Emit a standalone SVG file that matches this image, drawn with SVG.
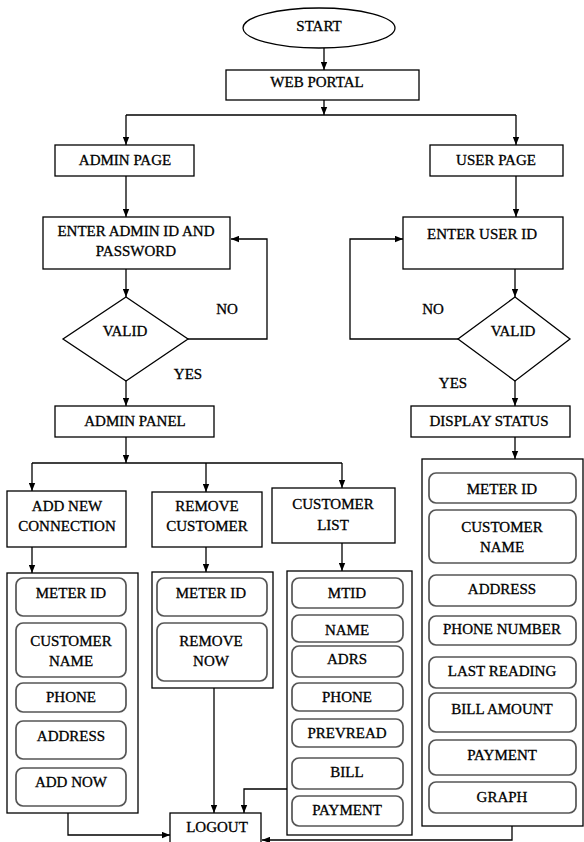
<svg xmlns="http://www.w3.org/2000/svg" width="584" height="842" viewBox="0 0 584 842">
<defs>
<marker id="arr" viewBox="0 0 10 8" refX="10" refY="4" markerWidth="8" markerHeight="7" markerUnits="userSpaceOnUse" orient="auto">
<path d="M0,0 L10,4 L0,8 z" fill="#000"/>
</marker>
<style>
.b{fill:#fff;stroke:#000;stroke-width:1.3}
.c{fill:none;stroke:#000;stroke-width:1.3}
.r{fill:#fff;stroke:#555;stroke-width:1.7}
.t{font-family:"Liberation Serif","Times New Roman",serif;font-size:15px;fill:#000;stroke:#000;stroke-width:0.3;text-anchor:middle}
.k{fill:none;stroke:#000;stroke-width:1.3;marker-end:url(#arr)}
</style>
</defs>
<rect width="584" height="842" fill="#fff"/>

<g id="connectors">
<path class="k" d="M324,48 V70"/>
<path class="k" d="M324,100 V115"/>
<path class="c" d="M126,115 H516"/>
<path class="k" d="M126,115 V145"/>
<path class="k" d="M516,115 V145"/>
<path class="k" d="M126,176 V217"/>
<path class="k" d="M516,176 V217"/>
<path class="k" d="M126,269 V297"/>
<path class="k" d="M515,269 V297"/>
<path class="k" d="M188,339 H267 V239 H231"/>
<path class="k" d="M458,339 H350 V239 H403"/>
<path class="k" d="M126,381 V406"/>
<path class="k" d="M515,381 V406"/>
<path class="k" d="M126,437 V463"/>
<path class="c" d="M32,463 H342"/>
<path class="k" d="M32,463 V491"/>
<path class="k" d="M206,463 V492"/>
<path class="k" d="M342,463 V488"/>
<path class="k" d="M515,437 V459"/>
<path class="k" d="M32,547 V573"/>
<path class="k" d="M206,547 V572"/>
<path class="k" d="M342,543 V571"/>
<path class="k" d="M68,813 V835 H170"/>
<path class="k" d="M214,688 V813"/>
<path class="k" d="M287,789 H244 V813"/>
<path class="k" d="M512,826 V840 H262"/>
</g>

<g id="start"><ellipse class="b" cx="319" cy="28" rx="76" ry="20"/><text class="t" x="319" y="31">START</text></g>
<g id="web-portal"><rect class="b" x="226" y="70" width="193" height="30"/><text class="t" x="317" y="87">WEB PORTAL</text></g>
<g id="admin-page"><rect class="b" x="55" y="145" width="139" height="31"/><text class="t" x="125" y="165">ADMIN PAGE</text></g>
<g id="user-page"><rect class="b" x="430" y="145" width="133" height="31"/><text class="t" x="496" y="165">USER PAGE</text></g>
<g id="enter-admin"><rect class="b" x="43" y="217" width="187" height="52"/><text class="t" x="136" y="236">ENTER ADMIN ID AND</text><text class="t" x="136" y="256">PASSWORD</text></g>
<g id="enter-user"><rect class="b" x="403" y="217" width="160" height="52"/><text class="t" x="482" y="239">ENTER USER ID</text></g>
<g id="valid-admin"><polygon class="b" points="126,297 188,339 126,381 63,339"/><text class="t" x="125" y="336">VALID</text></g>
<g id="valid-user"><polygon class="b" points="515,297 570,339 515,381 458,339"/><text class="t" x="513" y="336">VALID</text></g>
<g id="labels">
<text class="t" x="227" y="314">NO</text>
<text class="t" x="433" y="314">NO</text>
<text class="t" x="188" y="379">YES</text>
<text class="t" x="453" y="388">YES</text>
</g>
<g id="admin-panel"><rect class="b" x="55" y="406" width="159" height="31"/><text class="t" x="135" y="426">ADMIN PANEL</text></g>
<g id="display-status"><rect class="b" x="411" y="406" width="159" height="31"/><text class="t" x="489" y="426">DISPLAY STATUS</text></g>

<g id="add-new"><rect class="b" x="7" y="491" width="119" height="56"/><text class="t" x="67" y="511">ADD NEW</text><text class="t" x="67" y="531">CONNECTION</text></g>
<g id="remove-customer"><rect class="b" x="152" y="492" width="110" height="55"/><text class="t" x="207" y="511">REMOVE</text><text class="t" x="207" y="531">CUSTOMER</text></g>
<g id="customer-list"><rect class="b" x="272" y="488" width="123" height="55"/><text class="t" x="333" y="509">CUSTOMER</text><text class="t" x="333" y="530">LIST</text></g>

<g id="add-form">
<rect class="b" x="7" y="573" width="131" height="240"/>
<rect class="r" x="16" y="578" width="110" height="38" rx="7"/><text class="t" x="71" y="598">METER ID</text>
<rect class="r" x="16" y="623" width="110" height="54" rx="7"/><text class="t" x="71" y="646">CUSTOMER</text><text class="t" x="71" y="666">NAME</text>
<rect class="r" x="16" y="683" width="110" height="29" rx="7"/><text class="t" x="71" y="702">PHONE</text>
<rect class="r" x="16" y="721" width="110" height="38" rx="7"/><text class="t" x="71" y="741">ADDRESS</text>
<rect class="r" x="16" y="768" width="110" height="38" rx="7"/><text class="t" x="71" y="787">ADD NOW</text>
</g>

<g id="remove-form">
<rect class="b" x="152" y="572" width="121" height="116"/>
<rect class="r" x="157" y="578" width="110" height="38" rx="7"/><text class="t" x="211" y="598">METER ID</text>
<rect class="r" x="157" y="623" width="110" height="58" rx="7"/><text class="t" x="211" y="646">REMOVE</text><text class="t" x="211" y="666">NOW</text>
</g>

<g id="list-form">
<rect class="b" x="287" y="571" width="125" height="264"/>
<rect class="r" x="292" y="578" width="111" height="30" rx="7"/><text class="t" x="347" y="598">MTID</text>
<rect class="r" x="292" y="615" width="111" height="27" rx="7"/><text class="t" x="347" y="635">NAME</text>
<rect class="r" x="292" y="646" width="111" height="31" rx="7"/><text class="t" x="347" y="664">ADRS</text>
<rect class="r" x="292" y="683" width="111" height="28" rx="7"/><text class="t" x="347" y="702">PHONE</text>
<rect class="r" x="292" y="719" width="111" height="28" rx="7"/><text class="t" x="347" y="738">PREVREAD</text>
<rect class="r" x="292" y="758" width="111" height="31" rx="7"/><text class="t" x="347" y="777">BILL</text>
<rect class="r" x="292" y="796" width="111" height="30" rx="7"/><text class="t" x="347" y="815">PAYMENT</text>
</g>

<g id="status-form">
<rect class="b" x="422" y="459" width="161" height="367"/>
<rect class="r" x="429" y="473" width="147" height="30" rx="7"/><text class="t" x="502" y="494">METER ID</text>
<rect class="r" x="429" y="510" width="147" height="53" rx="7"/><text class="t" x="502" y="532">CUSTOMER</text><text class="t" x="502" y="552">NAME</text>
<rect class="r" x="429" y="575" width="147" height="31" rx="7"/><text class="t" x="502" y="594">ADDRESS</text>
<rect class="r" x="429" y="616" width="147" height="29" rx="7"/><text class="t" x="502" y="634">PHONE NUMBER</text>
<rect class="r" x="429" y="657" width="147" height="31" rx="7"/><text class="t" x="502" y="676">LAST READING</text>
<rect class="r" x="429" y="693" width="147" height="39" rx="7"/><text class="t" x="502" y="714">BILL AMOUNT</text>
<rect class="r" x="429" y="740" width="147" height="35" rx="7"/><text class="t" x="502" y="760">PAYMENT</text>
<rect class="r" x="429" y="782" width="147" height="31" rx="7"/><text class="t" x="502" y="802">GRAPH</text>
</g>

<g id="logout"><rect class="b" x="170" y="813" width="91" height="35"/><text class="t" x="217" y="832">LOGOUT</text></g>
</svg>
